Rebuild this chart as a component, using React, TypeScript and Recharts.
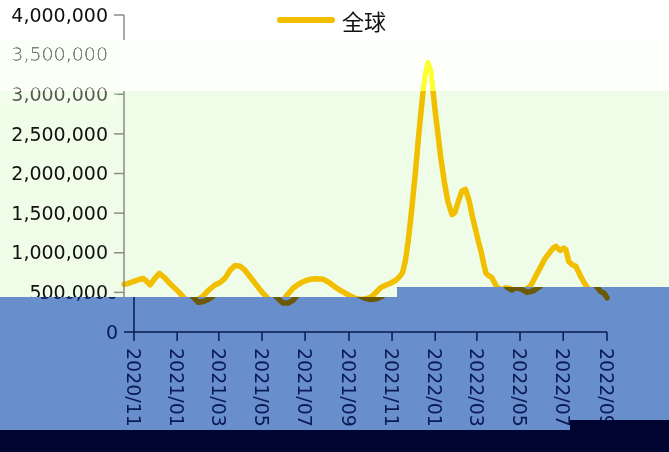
import React from "react";
import { LineChart, Line, XAxis, YAxis, Legend } from "recharts";

// days since 2020/11/01
const days = [
  0, 7, 14, 21, 27, 32, 37, 44, 50, 57, 64, 71, 78, 84, 91, 98, 105, 112, 120, 128,
  136, 143, 150, 157, 164, 171, 178, 185, 191, 197, 204, 211, 218, 225, 232, 240, 249, 256, 263, 272,
  282, 290, 299, 306, 313, 320, 327, 335, 343, 350, 357, 363, 370, 377, 384, 390, 394, 398, 402, 407,
  412, 417, 422, 426, 430, 434, 437, 440, 444, 448, 453, 458, 464, 468, 473, 478, 483, 488, 493, 497,
  501, 505, 509, 512, 516, 520, 527, 534, 540, 548, 556, 565, 575, 582, 589, 595, 601, 607, 611, 614,
  617, 622, 625, 629, 634, 639, 646, 653, 660, 665, 669,
];

const globalCases = [
  600000, 615000, 640000, 660000, 675000, 640000, 595000, 680000, 740000, 690000,
  620000, 560000, 500000, 440000, 375000, 385000, 410000, 455000, 530000, 590000,
  625000, 680000, 780000, 840000, 830000, 780000, 700000, 620000, 550000, 485000,
  420000, 365000, 365000, 400000, 480000, 560000, 615000, 645000, 665000, 672000,
  665000, 625000, 565000, 525000, 490000, 455000, 425000, 410000, 420000, 445000,
  505000, 560000, 590000, 615000, 650000, 700000, 750000, 900000, 1150000, 1550000,
  2000000, 2500000, 2950000, 3250000, 3400000, 3300000, 3050000, 2800000, 2500000, 2200000,
  1900000, 1650000, 1480000, 1510000, 1650000, 1780000, 1800000, 1660000, 1450000, 1300000,
  1150000, 1020000, 850000, 740000, 710000, 690000, 570000, 530000, 560000, 540000,
  500000, 520000, 580000, 700000, 815000, 920000, 990000, 1060000, 1080000, 1050000,
  1030000, 1060000, 1040000, 890000, 850000, 830000, 700000, 590000, 510000, 490000,
  430000,
];

const tickLabels = [
  "2020/11", "2021/01", "2021/03", "2021/05", "2021/07", "2021/09",
  "2021/11", "2022/01", "2022/03", "2022/05", "2022/07", "2022/09",
];

const yTicks = [0, 500000, 1000000, 1500000, 2000000, 2500000, 3000000, 3500000, 4000000];

const seriesName = "全球";

const START = Date.UTC(2020, 10, 1);
const labelToDay = (label: string) => {
  const [y, m] = label.split("/").map(Number);
  return Math.round((Date.UTC(y, m - 1, 1) - START) / 86400000);
};
const xTicks = tickLabels.map(labelToDay);
const dayToLabel: Record<number, string> = {};
tickLabels.forEach((l, i) => (dayToLabel[xTicks[i]] = l));

const rows = days.map((d, i) => ({ day: d, value: globalCases[i] }));

const FONT = "'DejaVu Sans', Verdana, sans-serif";

const XTick = ({ x, y, payload, fill }: any) => (
  <text
    x={x}
    y={y}
    transform={`rotate(90, ${x}, ${y})`}
    textAnchor="start"
    dominantBaseline="central"
    fill={fill}
    fontSize={19}
    fontFamily={FONT}
  >
    {dayToLabel[payload.value]}
  </text>
);

// y labels; each copy only draws the ones that show in its own band
const YTick = ({ x, y, payload, fill, minValue, maxValue }: any) =>
  payload.value > maxValue || payload.value < minValue ? null : (
    <text x={x} y={y} dy="0.355em" textAnchor="end" fill={fill} fontSize={19} fontFamily={FONT}>
      {payload.value.toLocaleString("en-US")}
    </text>
  );

const renderLegend = () => (
  <div style={{ display: "flex", alignItems: "center", fontFamily: "'Noto Sans CJK SC', sans-serif" }}>
    <div style={{ width: 58, height: 6, borderRadius: 3, background: "#F1BF00", marginRight: 7 }} />
    <span style={{ fontSize: 22, color: "#111", lineHeight: "28px" }}>{seriesName}</span>
  </div>
);

interface ChartProps {
  lineColor: string;
  axisColor: string;
  textColor: string;
  upper?: boolean;
}

const CasesChart: React.FC<ChartProps> = ({ lineColor, axisColor, textColor, upper }) => (
  <LineChart width={669} height={452} data={rows} margin={{ top: 15, right: 72, bottom: 20, left: 0 }}>
    <XAxis
      dataKey="day"
      type="number"
      domain={[0, 669]}
      ticks={xTicks}
      interval={0}
      height={100}
      tickSize={9}
      tickMargin={7}
      stroke={axisColor}
      strokeWidth={1.5}
      tick={upper ? false : <XTick fill={textColor} />}
    />
    <YAxis
      domain={[0, 4000000]}
      ticks={yTicks}
      interval={0}
      width={124}
      tickSize={10}
      tickMargin={6}
      stroke={axisColor}
      strokeWidth={1.5}
      tick={
        <YTick
          fill={textColor}
          minValue={upper ? 500000 : 0}
          maxValue={upper ? Infinity : 500000}
        />
      }
    />
    {upper && (
      <Legend
        layout="horizontal"
        verticalAlign="middle"
        align="center"
        wrapperStyle={{ top: 6, left: 277, width: 130 }}
        content={renderLegend}
      />
    )}
    <Line
      type="linear"
      dataKey="value"
      name={seriesName}
      stroke={lineColor}
      strokeWidth={5.5}
      dot={false}
      strokeLinejoin="round"
      strokeLinecap="round"
      isAnimationActive={false}
    />
  </LineChart>
);

const abs = (left: number, top: number, width: number, height: number, extra: React.CSSProperties = {}): React.CSSProperties => ({
  position: "absolute",
  left,
  top,
  width,
  height,
  ...extra,
});

export default function App() {
  return (
    <div style={abs(0, 0, 669, 452, { overflow: "hidden", background: "#ffffff" })}>
      <div style={abs(0, 40, 669, 51, { background: "#F8FFF2" })} />
      <div style={abs(0, 91, 669, 220, { background: "#EFFCE8" })} />
      <div style={abs(0, 0, 669, 452)}>
        <CasesChart lineColor="#F1BF00" axisColor="#8A8E86" textColor="#111111" upper />
      </div>
      <div style={abs(0, 40, 669, 51, { background: "rgb(125,125,125)", mixBlendMode: "color-dodge" })} />
      <div style={abs(0, 40, 669, 51, { background: "rgba(245,255,236,0.2)" })} />
      <div style={abs(0, 40, 118, 64, { background: "rgba(248,255,242,0.3)" })} />
      <div
        style={abs(0, 0, 669, 452, {
          background: "#688ECB",
          clipPath: "polygon(0px 297px, 397px 297px, 397px 287px, 669px 287px, 669px 452px, 0px 452px)",
        })}
      >
        <div style={abs(10, 0, 669, 452)}>
          <CasesChart lineColor="#6A5A08" axisColor="#0A1A55" textColor="#0A1A55" />
        </div>
      </div>
      <div style={abs(0, 430, 669, 22, { background: "#000532" })} />
      <div style={abs(570, 420, 99, 10, { background: "#000532" })} />
    </div>
  );
}
